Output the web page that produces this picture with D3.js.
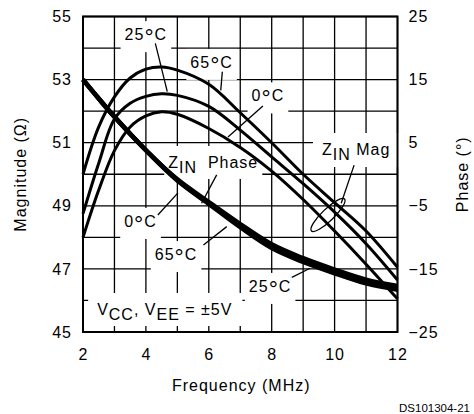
<!DOCTYPE html>
<html>
<head>
<meta charset="utf-8">
<script src="https://cdn.jsdelivr.net/npm/d3@7"></script>
<style>
  body { margin: 0; background: #fff; }
  text { font-family: "Liberation Sans", Arial, sans-serif; fill: #000; }
</style>
</head>
<body>
<svg id="chart" width="474" height="414"></svg>
<script>
// frequency points (MHz)
const magFreq = [2, 2.5, 3, 3.5, 4, 4.5, 5, 6, 7, 8, 9, 10, 11, 12]
// input impedance magnitude (ohms) per temperature
const mag65 = [50.0, 51.5, 52.45, 53.05, 53.33, 53.4, 53.3, 52.85, 51.95, 51.0, 50.0, 49.1, 48.2, 47.05]
const mag25 = [48.75, 50.35, 51.75, 52.25, 52.47, 52.55, 52.5, 52.15, 51.4, 50.55, 49.7, 48.8, 47.8, 46.65]
const mag0  = [48.0, 49.5, 50.75, 51.5, 51.85, 51.98, 51.9, 51.45, 50.85, 50.1, 49.2, 48.2, 47.15, 46.05]

const phaseFreq = [2, 2.5, 3, 4, 5, 6, 7, 8, 9, 10, 11, 12]
// input impedance phase (degrees)
const phase0  = [15.0, 12.0, 9.1, 3.8, -0.8, -4.4, -7.9, -11.1, -13.3, -15.1, -16.7, -17.7]
const phase25 = [15.0, 12.0, 9.1, 3.8, -0.9, -4.6, -8.2, -11.4, -13.6, -15.4, -17.0, -18.0]
const phase65 = [15.0, 12.0, 9.1, 3.8, -1.0, -4.7, -8.4, -11.7, -13.9, -15.7, -17.3, -18.3]

const xTicks = [2, 4, 6, 8, 10, 12]
const magTicks = [45, 47, 49, 51, 53, 55]
const phaseTicks = [-25, -15, -5, 5, 15, 25]

// annotations, positioned in (MHz, ohms)
const labels = [
    { text: "25°C", f: 4.0, m: 54.25 },
    { text: "65°C", f: 6.09, m: 53.37 },
    { text: "0°C", f: 7.88, m: 52.31 },
    { text: "Z_{IN} Mag", f: 9.6, m: 50.61, anchor: "start", pad: [9, 10, 9, 6] },
    { text: "Z_{IN}  Phase", f: 4.71, m: 50.2, anchor: "start", pad: [4, 10, 4, 5] },
    { text: "0°C", f: 3.83, m: 48.33 },
    { text: "65°C", f: 4.96, m: 47.28 },
    { text: "25°C", f: 7.95, m: 46.27 },
    { text: "V_{CC}, V_{EE} = ±5V", f: 2.45, m: 45.54, anchor: "start", pad: [9, 10, 10, 5] }
]
const pointers = [
    [[4.30, 54.15], [4.68, 52.62]],
    [[6.43, 53.25], [6.38, 52.66]],
    [[7.72, 52.16], [6.61, 51.18]],
    [[10.62, 50.29], [10.21, 49.08]],
    [[6.25, 49.98], [5.77, 49.08]],
    [[4.38, 48.71], [5.02, 49.41]],
    [[5.83, 47.76], [6.57, 48.34]],
    [[8.64, 46.73], [9.22, 47.02]]
]
const magRing = { f: 9.79, m: 48.71 }

const svg = d3.select('#chart')
const margin = ({ top: 16.5, right: 76.5, bottom: 82, left: 83 })
const width = 474, height = 414

const x = d3.scaleLinear()
    .domain([2, 12])
    .range([margin.left, width - margin.right])
const yMag = d3.scaleLinear()
    .domain([45, 55])
    .range([height - margin.bottom, margin.top])
const yPhase = d3.scaleLinear()
    .domain([-25, 25])
    .range([height - margin.bottom, margin.top])

// grid, one line per MHz and per ohm
const grid = svg.append('g').attr('stroke', '#000').attr('stroke-width', 1.3)
grid.selectAll('line.v')
    .data(x.ticks(10))
    .join('line')
    .attr('class', 'v')
    .attr('x1', d => x(d)).attr('x2', d => x(d))
    .attr('y1', yMag(45)).attr('y2', yMag(55))
grid.selectAll('line.h')
    .data(yMag.ticks(10))
    .join('line')
    .attr('class', 'h')
    .attr('x1', x(2)).attr('x2', x(12))
    .attr('y1', d => yMag(d)).attr('y2', d => yMag(d))

const boxLayer = svg.append('g')
const curveLayer = svg.append('g')
const annLayer = svg.append('g')

// frame
svg.append('rect')
    .attr('x', x(2)).attr('y', yMag(55))
    .attr('width', x(12) - x(2)).attr('height', yMag(45) - yMag(55))
    .attr('fill', 'none').attr('stroke', '#000').attr('stroke-width', 2)

// axes labels
const fontSize = 16
const tickStyle = g => g.selectAll('text')
    .attr('font-size', fontSize)
    .attr('letter-spacing', 1)
    .attr('font-family', '"Liberation Sans", Arial, sans-serif')

svg.append('g')
    .attr('transform', `translate(0,${yMag(45)})`)
    .call(d3.axisBottom(x).tickValues(xTicks).tickSize(0).tickPadding(17))
    .call(g => g.select('.domain').remove())
    .call(tickStyle)
svg.append('g')
    .attr('transform', `translate(${margin.left},0)`)
    .call(d3.axisLeft(yMag).tickValues(magTicks).tickSize(0).tickPadding(11))
    .call(g => g.select('.domain').remove())
    .call(tickStyle)
svg.append('g')
    .attr('transform', `translate(${x(12)},0)`)
    .call(d3.axisRight(yPhase).tickValues(phaseTicks).tickSize(0).tickPadding(11))
    .call(g => g.select('.domain').remove())
    .call(tickStyle)

svg.append('text')
    .attr('x', (x(2) + x(12)) / 2 + 1).attr('y', 391)
    .attr('text-anchor', 'middle').attr('font-size', fontSize).attr('letter-spacing', 1)
    .text('Frequency (MHz)')
svg.append('text')
    .attr('transform', `translate(26,${(yMag(45) + yMag(55)) / 2}) rotate(-90)`)
    .attr('text-anchor', 'middle').attr('font-size', fontSize).attr('letter-spacing', 1)
    .text('Magnitude (Ω)')
svg.append('text')
    .attr('transform', `translate(468,${(yMag(45) + yMag(55)) / 2}) rotate(-90)`)
    .attr('text-anchor', 'middle').attr('font-size', fontSize).attr('letter-spacing', 1)
    .text('Phase (°)')
svg.append('text')
    .attr('x', 470).attr('y', 412)
    .attr('text-anchor', 'end').attr('font-size', 11.5)
    .text('DS101304-21')

// curves
const magLine = d3.line()
    .x((d, i) => x(magFreq[i]))
    .y(d => yMag(d))
    .curve(d3.curveCatmullRom.alpha(0.5))
const phaseLine = d3.line()
    .x((d, i) => x(phaseFreq[i]))
    .y(d => yPhase(d))
    .curve(d3.curveCatmullRom.alpha(0.5))

curveLayer.selectAll('path.mag')
    .data([mag65, mag25, mag0])
    .join('path')
    .attr('class', 'mag')
    .attr('d', magLine)
    .attr('fill', 'none').attr('stroke', '#000').attr('stroke-width', 3)
curveLayer.selectAll('path.phase')
    .data([phase0, phase25, phase65])
    .join('path')
    .attr('class', 'phase')
    .attr('d', phaseLine)
    .attr('fill', 'none').attr('stroke', '#000').attr('stroke-width', 4.5)

// pointer lines
annLayer.selectAll('line')
    .data(pointers)
    .join('line')
    .attr('x1', d => x(d[0][0])).attr('y1', d => yMag(d[0][1]))
    .attr('x2', d => x(d[1][0])).attr('y2', d => yMag(d[1][1]))
    .attr('stroke', '#000').attr('stroke-width', 1.3)
annLayer.append('ellipse')
    .attr('transform', `translate(${x(magRing.f)},${yMag(magRing.m)}) rotate(-44)`)
    .attr('rx', 23).attr('ry', 6)
    .attr('fill', 'none').attr('stroke', '#000').attr('stroke-width', 1.3)

// text labels with subscripts and raised degree sign
const parts = s => {
    const out = []
    const re = /_\{([^}]*)\}|°|[^_°]+/g
    let mm
    while ((mm = re.exec(s)) !== null) {
        if (mm[1] !== undefined) out.push({ t: mm[1], kind: 'sub' })
        else if (mm[0] === '°') out.push({ t: '°', kind: 'deg' })
        else out.push({ t: mm[0], kind: 'txt' })
    }
    return out
}

labels.forEach(a => {
    const t = annLayer.append('text')
        .attr('x', x(a.f)).attr('y', yMag(a.m))
        .attr('text-anchor', a.anchor || 'middle')
        .attr('font-size', fontSize)
        .attr('letter-spacing', 1)
        .style('white-space', 'pre')
    let shift = 0
    parts(a.text).forEach(p => {
        const want = p.kind === 'sub' ? 5 : p.kind === 'deg' ? 5 : 0
        const sp = t.append('tspan').text(p.t).attr('dy', want - shift)
        if (p.kind === 'deg') sp.attr('font-size', 23)
        shift = want
    })
    const b = t.node().getBBox()
    const pad = a.pad || [4, 5, 4, 4] // left, top, right, bottom
    boxLayer.append('rect')
        .attr('x', b.x - pad[0]).attr('y', b.y - pad[1] + 2)
        .attr('width', b.width + pad[0] + pad[2])
        .attr('height', b.height + pad[1] + pad[3] - 4)
        .attr('fill', '#fff')
})
</script>
</body>
</html>
